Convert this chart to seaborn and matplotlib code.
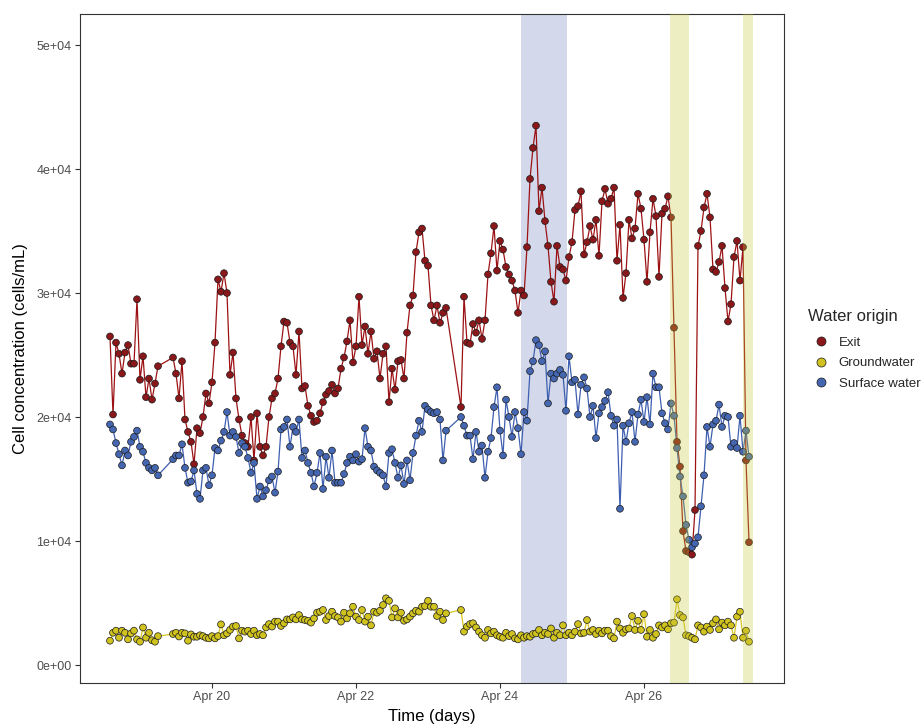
import pandas as pd
import numpy as np
import matplotlib
matplotlib.use("Agg")
import matplotlib.pyplot as plt
import matplotlib.dates as mdates
from matplotlib.lines import Line2D
import seaborn as sns

# sampling runs (hourly), three runs separated by gaps
run_starts = ["2021-04-18 14:00", "2021-04-19 11:00", "2021-04-23 11:00"]

# cell concentration, thousand cells/mL, one list per run
exit_k = [
    [26.5, 20.2, 26.0, 25.1, 23.5, 25.2, 25.8, 24.3, 24.3, 29.5, 23.0, 24.9, 21.6, 23.1, 21.4, 22.7, 24.1],
    [24.8, 23.5, 21.5, 24.5, 19.8, 18.8, 18.0, 16.2, 19.1, 18.7, 20.0, 21.9, 21.1, 22.8, 26.0, 31.1,
     30.1, 31.6, 30.0, 23.4, 25.2, 21.5, 19.8, 18.5, 17.9, 17.6, 20.0, 16.5, 20.3, 17.6, 16.9, 17.6,
     20.0, 21.5, 21.9, 23.1, 25.7, 27.7, 27.6, 26.0, 25.7, 23.4, 26.9, 22.3, 22.5, 20.9, 20.1, 19.6,
     19.7, 20.3, 21.2, 21.8, 22.1, 22.6, 21.9, 22.3, 23.9, 24.8, 26.1, 27.8, 24.4, 25.7, 29.7, 25.8,
     27.3, 25.1, 26.9, 24.7, 25.3, 23.1, 25.1, 25.7, 21.2, 23.9, 22.2, 24.5, 24.6, 23.1, 26.8, 29.0,
     29.8, 33.3, 34.9, 35.2, 32.6, 32.2, 29.0, 27.8, 29.0, 27.6, 28.4, 28.8],
    [20.8, 29.7, 26.0, 25.9, 27.5, 26.8, 27.8, 26.3, 27.8, 31.5, 33.2, 35.4, 31.8, 34.2, 33.5, 32.1,
     31.5, 31.0, 30.2, 28.4, 30.2, 29.8, 33.7, 39.2, 41.7, 43.5, 36.6, 38.5, 35.8, 33.8, 30.9, 29.3,
     33.8, 32.1, 31.9, 31.0, 32.9, 34.1, 36.7, 37.0, 38.2, 33.1, 34.1, 35.4, 34.3, 35.9, 33.0, 37.4,
     38.4, 37.2, 37.6, 38.5, 32.6, 35.5, 29.6, 31.6, 35.9, 34.4, 35.2, 38.0, 36.8, 34.3, 30.9, 34.9,
     37.6, 36.2, 31.3, 36.4, 36.8, 37.8, 36.1, 27.2, 18.0, 16.0, 10.8, 9.2, 9.1, 8.9, 12.5, 33.8,
     35.0, 36.9, 38.0, 36.1, 31.9, 31.7, 32.5, 33.8, 30.4, 27.7, 29.1, 32.9, 34.2, 31.0, 33.7, 16.5,
     9.9],
]

groundwater_k = [
    [1.96, 2.6, 2.77, 2.2, 2.77, 2.6, 2.07, 2.55, 2.77, 2.07, 1.88, 3.03, 2.2, 2.6, 2.0, 1.88, 2.33],
    [2.5, 2.6, 2.3, 2.6, 2.55, 1.96, 2.47, 2.28, 2.28, 2.4, 2.33, 2.2, 2.15, 2.33, 2.15, 2.33,
     3.28, 2.4, 2.55, 2.83, 3.1, 3.15, 2.15, 2.77, 2.69, 2.77, 2.5, 2.77, 2.4, 2.5, 2.4, 3.03,
     3.3, 3.1, 3.5, 3.5, 3.15, 3.37, 3.68, 3.68, 3.84, 3.68, 4.03, 3.68, 3.63, 3.57, 3.42, 3.76,
     4.22, 4.3, 4.44, 3.63, 3.95, 4.3, 3.95, 3.84, 3.5, 4.22, 3.76, 4.17, 4.7, 3.9, 3.63, 4.44,
     3.5, 3.9, 3.2, 4.3, 4.22, 4.38, 4.84, 5.38, 5.18, 3.84, 4.57, 3.84, 4.22, 3.57, 3.68, 3.9,
     4.17, 4.38, 4.3, 4.7, 4.76, 5.18, 4.7, 4.7, 3.95, 4.3, 3.63, 4.17],
    [4.44, 2.69, 3.1, 3.3, 3.37, 3.03, 2.69, 2.4, 2.2, 2.83, 2.55, 2.69, 2.4, 2.28, 2.2, 2.6,
     2.33, 2.5, 2.15, 2.07, 2.4, 2.2, 2.33, 2.28, 2.5, 2.55, 2.83, 2.4, 2.6, 2.5, 2.95, 2.2,
     2.6, 2.4, 3.2, 2.4, 2.6, 2.4, 2.69, 3.3, 2.55, 2.6, 3.63, 2.69, 2.83, 2.5, 2.77, 2.55,
     2.77, 2.77, 2.33, 2.15, 3.5, 2.95, 2.6, 2.88, 2.95, 3.95, 2.83, 3.57, 2.83, 4.1, 2.28, 2.83,
     2.2, 2.5, 3.2, 3.03, 3.2, 2.88, 3.37, 3.42, 5.3, 4.03, 3.84, 2.4, 2.33, 2.2, 2.07, 3.2,
     3.03, 2.69, 3.1, 2.83, 3.37, 3.68, 2.88, 3.42, 3.2, 3.5, 3.2, 2.2, 3.9, 4.3, 2.2, 2.77,
     1.88],
]

surface_k = [
    [19.4, 19.0, 17.9, 17.0, 16.1, 17.3, 16.9, 18.0, 18.4, 18.9, 17.6, 17.2, 16.3, 15.9, 15.7, 15.9, 15.3],
    [16.6, 16.9, 16.9, 17.8, 15.9, 14.7, 14.8, 15.7, 13.8, 13.4, 15.7, 15.9, 14.5, 15.3, 17.5, 17.3,
     18.1, 18.8, 20.4, 18.5, 18.8, 18.4, 17.1, 17.9, 17.6, 16.7, 15.5, 16.3, 13.4, 14.4, 13.6, 14.1,
     14.9, 15.2, 13.9, 15.6, 19.0, 19.2, 19.8, 17.6, 19.2, 18.8, 19.8, 16.7, 17.3, 16.3, 15.5, 14.4,
     15.5, 17.1, 14.2, 16.8, 15.1, 17.3, 14.7, 14.7, 14.7, 15.4, 16.3, 16.8, 16.5, 17.0, 16.4, 16.6,
     19.1, 17.6, 17.3, 16.0, 15.7, 15.5, 15.3, 14.4, 17.1, 17.4, 16.3, 15.1, 16.1, 14.6, 16.5, 14.9,
     17.1, 18.5, 19.7, 18.8, 20.9, 20.6, 20.4, 20.3, 20.4, 19.8, 16.5, 18.9],
    [20.0, 19.3, 18.5, 18.5, 16.6, 18.8, 17.2, 17.7, 15.1, 17.2, 18.3, 20.8, 22.4, 18.9, 16.9, 21.4,
     20.0, 18.4, 20.4, 19.1, 17.0, 20.4, 19.7, 23.7, 24.5, 26.2, 25.8, 24.5, 25.3, 21.1, 23.5, 23.1,
     23.5, 23.8, 23.4, 20.5, 24.9, 22.8, 23.0, 20.2, 22.6, 23.2, 22.3, 20.0, 20.9, 18.3, 20.3, 20.8,
     21.3, 22.0, 20.1, 19.3, 19.8, 12.6, 19.3, 18.0, 19.5, 20.4, 18.0, 20.2, 21.4, 19.6, 21.6, 19.4,
     23.5, 22.4, 22.4, 20.3, 19.5, 19.0, 21.1, 20.1, 17.5, 15.2, 13.6, 11.3, 10.1, 9.5, 9.8, 10.3,
     12.8, 15.3, 19.2, 17.6, 19.4, 19.7, 21.0, 19.2, 20.1, 20.0, 17.6, 17.9, 17.5, 20.1, 17.2, 18.9,
     16.8],
]

origins = ["Exit", "Groundwater", "Surface water"]
point_colors = ["#8A171A", "#D0C21F", "#4567B2"]
line_colors = ["#9C1214", "#D8C625", "#3E5FB0"]

# highlighted periods
blue_span = [("2021-04-24 07:00", "2021-04-24 22:30")]
yellow_spans = [("2021-04-26 08:40", "2021-04-26 15:10"), ("2021-04-27 09:10", "2021-04-27 12:15")]

rows = []
for name, runs in zip(origins, [exit_k, groundwater_k, surface_k]):
    for start, vals in zip(run_starts, runs):
        times = pd.date_range(start, periods=len(vals), freq="h")
        for t, v in zip(times, vals):
            rows.append({"time": t, "conc": v * 1000, "origin": name})
df = pd.DataFrame(rows)

sns.set_theme(style="white")
plt.rcParams["font.family"] = ["Liberation Sans", "DejaVu Sans"]

fig = plt.figure(figsize=(9.24, 7.24), dpi=100)
ax = fig.add_axes([80 / 924, 41 / 724, 704 / 924, 669 / 724])

for a, b in blue_span:
    ax.axvspan(pd.Timestamp(a), pd.Timestamp(b), color="#D3D9EA", lw=0, zorder=0)

sns.lineplot(data=df, x="time", y="conc", hue="origin", hue_order=origins,
             palette=line_colors, estimator=None, sort=False, linewidth=0.9,
             legend=False, ax=ax, zorder=2)
sns.scatterplot(data=df, x="time", y="conc", hue="origin", hue_order=origins,
                palette=point_colors, s=24, edgecolor="#1a1a1a", linewidth=0.5,
                legend=False, ax=ax, zorder=3)

for a, b in yellow_spans:
    ax.axvspan(pd.Timestamp(a), pd.Timestamp(b), color="#C8C83A", alpha=0.3, lw=0, zorder=4)

ax.set_xlim(pd.Timestamp("2021-04-18 04:00"), pd.Timestamp("2021-04-27 22:40"))
ax.set_ylim(-1450, 52500)
ax.set_yticks([0, 10000, 20000, 30000, 40000, 50000])
ax.yaxis.set_major_formatter(plt.FuncFormatter(lambda v, p: f"{v:.0e}"))
ax.xaxis.set_major_locator(mdates.DayLocator(bymonthday=[20, 22, 24, 26]))
ax.xaxis.set_major_formatter(mdates.DateFormatter("%b %d"))

for sp in ax.spines.values():
    sp.set_color("#333333")
    sp.set_linewidth(0.8)
ax.tick_params(axis="both", which="major", bottom=True, left=True, direction="out",
               length=3.5, width=0.8, color="#333333",
               labelsize=9, labelcolor="#4D4D4D", pad=2.5)
ax.grid(False)

ax.set_xlabel("Time (days)", fontsize=12, color="black", labelpad=4)
ax.set_ylabel("Cell concentration (cells/mL)", fontsize=12, color="black", labelpad=6)

handles = [Line2D([], [], marker="o", linestyle="", markersize=6.5, markerfacecolor=c,
                  markeredgecolor="#1a1a1a", markeredgewidth=0.5) for c in point_colors]
leg = fig.legend(handles, origins, title="Water origin", loc="upper left",
                 bbox_to_anchor=(803 / 924, 1 - 304 / 724), frameon=False,
                 fontsize=9.5, title_fontsize=12, handletextpad=0.3,
                 labelspacing=0.62, borderaxespad=0)
leg._legend_box.align = "left"
leg._legend_box.sep = 9

fig.savefig("out.png", dpi=100)
